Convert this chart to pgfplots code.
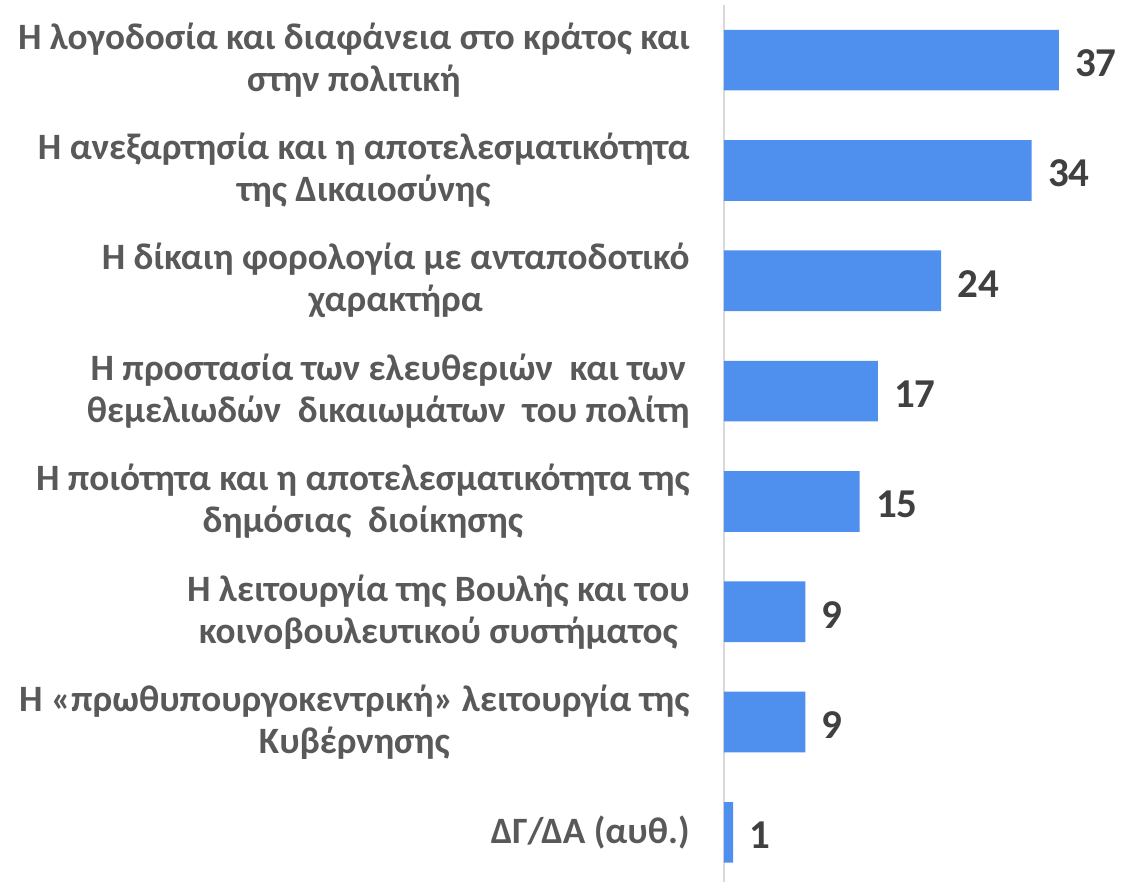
\documentclass[border=0pt]{standalone}
\usepackage{fontspec}
\setmainfont{Carlito}
\usepackage{pgfplots}
\pgfplotsset{compat=1.18}
\definecolor{barblue}{HTML}{4F90EE}
\definecolor{labelgray}{HTML}{595959}
\definecolor{valgray}{HTML}{404040}
\definecolor{axisgray}{HTML}{D9D9D9}
\begin{document}
\begin{tikzpicture}
\useasboundingbox (-362pt,0pt) rectangle (199pt,441pt);
\begin{axis}[
  at={(0pt,0pt)}, anchor=south west,
  scale only axis, width=190pt, height=438.5pt,
  xbar, bar width=0.55,
  xmin=0, xmax=42, ymin=-0.5, ymax=7.45, y dir=reverse,
  clip=false,
  axis x line=none, axis y line=left,
  axis line style={-, draw=axisgray, line width=0.75pt},
  ytick={0,...,7}, major tick length=0,
  yticklabels={
    {Η λογοδοσία και διαφάνεια στο κράτος και\\στην πολιτική},
    {Η ανεξαρτησία και η αποτελεσματικότητα\\της Δικαιοσύνης\ },
    {Η δίκαιη φορολογία με ανταποδοτικό\\χαρακτήρα},
    {Η προστασία των ελευθεριών\ \ και των\\θεμελιωδών\ \ δικαιωμάτων\ \ του πολίτη},
    {Η ποιότητα και η αποτελεσματικότητα της\\δημόσιας\ \ διοίκησης},
    {Η λειτουργία της Βουλής και του\\κοινοβουλευτικού συστήματος\ },
    {Η «πρωθυπουργοκεντρική» λειτουργία της\\Κυβέρνησης},
    {ΔΓ/ΔΑ (αυθ.)}},
  yticklabel style={font=\fontsize{18.6}{21}\selectfont\bfseries, text=labelgray,
    align=center, anchor=east, inner sep=0pt, xshift=-17pt},
  nodes near coords,
  point meta=x,
  /pgf/number format/assume math mode=true,
  nodes near coords style={font=\fontsize{20.5}{24}\selectfont\bfseries, text=valgray,
    anchor=west, inner sep=0pt, xshift=8pt, yshift=-1.5pt},
]
\addplot[fill=barblue, draw=none] coordinates {(37,0) (34,1) (24,2) (17,3) (15,4) (9,5) (9,6) (1,7)};
\end{axis}
\end{tikzpicture}
\end{document}
